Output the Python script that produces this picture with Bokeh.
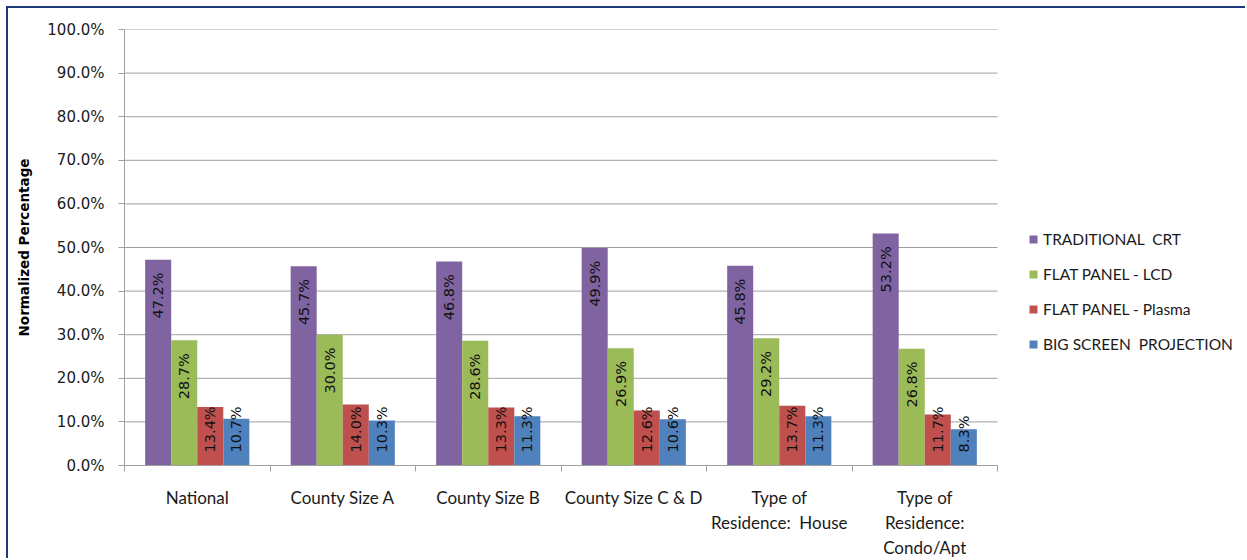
from bokeh.plotting import figure
from bokeh.models import (ColumnDataSource, FixedTicker, Legend, LegendItem,
                          Range1d, CustomJSTickFormatter)
from bokeh.core.properties import value
from bokeh.embed import file_html
from bokeh.resources import INLINE
import math

NBSP = "\u00a0"

# Survey groups and their TV-type shares (percent)
categories = ["National", "County Size A", "County Size B", "County Size C & D",
              "Type of\nResidence:" + NBSP + " House", "Type of\nResidence:\nCondo/Apt"]
series_names = ["TRADITIONAL" + NBSP + " CRT", "FLAT PANEL - LCD", "FLAT PANEL - Plasma",
                "BIG SCREEN" + NBSP + " PROJECTION"]
traditional_crt = [47.2, 45.7, 46.8, 49.9, 45.8, 53.2]
flat_lcd = [28.7, 30.0, 28.6, 26.9, 29.2, 26.8]
flat_plasma = [13.4, 14.0, 13.3, 12.6, 13.7, 11.7]
big_screen = [10.7, 10.3, 11.3, 10.6, 11.3, 8.3]
y_ticks = [0, 10, 20, 30, 40, 50, 60, 70, 80, 90, 100]

series = [traditional_crt, flat_lcd, flat_plasma, big_screen]
colors = ["#8064A2", "#9BBB59", "#C0504D", "#4F81BD"]

BAR_W = 0.179
LABEL_LEN = 10.8    # rotated label length, in axis percent
PAD_TOP = 2.7
PAD_BOTTOM = 3.0

# the frame runs to the right edge so the legend can sit beside the bars
W, H = 1239, 552
BORDER_L = 116
GROUP_PX = 145.5
n = len(categories)
x_end = (W - BORDER_L) / GROUP_PX

p = figure(width=W, height=H, output_backend="svg", toolbar_location=None,
           x_range=Range1d(0, x_end), y_range=Range1d(0, 100),
           min_border_left=BORDER_L, min_border_right=0, min_border_top=21,
           min_border_bottom=95, background_fill_color="white",
           border_fill_color="white", outline_line_color=None)
p.margin = (6, 0, 0, 6)
p.styles = {"border-top": "2px solid #1F3A78", "border-left": "2px solid #1F3A78"}

# horizontal gridlines across the category area only
p.xgrid.grid_line_color = None
p.ygrid.grid_line_color = None
p.segment(x0=[0] * len(y_ticks), x1=[n] * len(y_ticks), y0=y_ticks, y1=y_ticks,
          line_color="#A0A0A0", line_width=1)

items = []
for k, vals in enumerate(series):
    off = (k - 1.5) * BAR_W
    xs = [i + 0.5 + off for i in range(n)]
    src = ColumnDataSource(dict(
        x=xs, top=vals,
        label=[f"{v:.1f}%" for v in vals],
        ly=[max(v - PAD_TOP - LABEL_LEN, PAD_BOTTOM) for v in vals]))
    r = p.vbar(x="x", top="top", bottom=0, width=BAR_W, source=src,
               fill_color=colors[k], line_color=None)
    p.text(x="x", y="ly", text="label", source=src, angle=math.pi / 2,
           text_align="left", text_baseline="middle",
           text_font=value("DejaVu Sans"), text_font_size="14.5px",
           text_color="#111111")
    items.append(LegendItem(label=series_names[k], renderers=[r]))

# y axis
p.yaxis.ticker = FixedTicker(ticks=y_ticks)
p.yaxis.formatter = CustomJSTickFormatter(code="return tick.toFixed(1) + '%';")
p.yaxis.axis_line_color = "#A0A0A0"
p.yaxis.major_tick_line_color = "#A0A0A0"
p.yaxis.major_tick_in = 0
p.yaxis.major_tick_out = 6
p.yaxis.minor_tick_line_color = None
p.yaxis.major_label_standoff = 14
p.yaxis.major_label_text_font = "DejaVu Sans"
p.yaxis.major_label_text_font_size = "15px"
p.yaxis.major_label_text_color = "#1A1A1A"
p.yaxis.axis_label = "Normalized Percentage"
p.yaxis.axis_label_text_font = "DejaVu Sans"
p.yaxis.axis_label_text_font_style = "bold"
p.yaxis.axis_label_text_font_size = "13.5px"
p.yaxis.axis_label_text_color = "#000000"
p.yaxis.axis_label_standoff = 12

# x axis: labels at group centres, ticks at group boundaries
centers = [i + 0.5 for i in range(n)]
p.xaxis.bounds = (0, n)
p.xaxis.ticker = FixedTicker(ticks=centers, minor_ticks=list(range(n + 1)))
p.xaxis.major_label_overrides = {c: lab for c, lab in zip(centers, categories)}
p.xaxis.axis_line_color = "#A0A0A0"
p.xaxis.major_tick_line_color = None
p.xaxis.major_tick_in = 0
p.xaxis.major_tick_out = 0
p.xaxis.minor_tick_line_color = "#A0A0A0"
p.xaxis.minor_tick_in = 0
p.xaxis.minor_tick_out = 6
p.xaxis.major_label_standoff = 15
p.xaxis.major_label_text_font = "Lato"
p.xaxis.major_label_text_font_size = "17px"
p.xaxis.major_label_text_color = "#1A1A1A"
p.xaxis.major_label_text_line_height = 1.2

legend = Legend(items=items, location=(904, 111), orientation="vertical",
                glyph_width=10, glyph_height=10, label_standoff=5,
                spacing=15, padding=0, margin=0, border_line_color=None,
                background_fill_alpha=0, label_text_font="Lato",
                label_text_font_size="15.5px", label_text_color="#1A1A1A",
                label_height=20)
p.add_layout(legend, "center")

open("out.html", "w").write(file_html(p, INLINE))
